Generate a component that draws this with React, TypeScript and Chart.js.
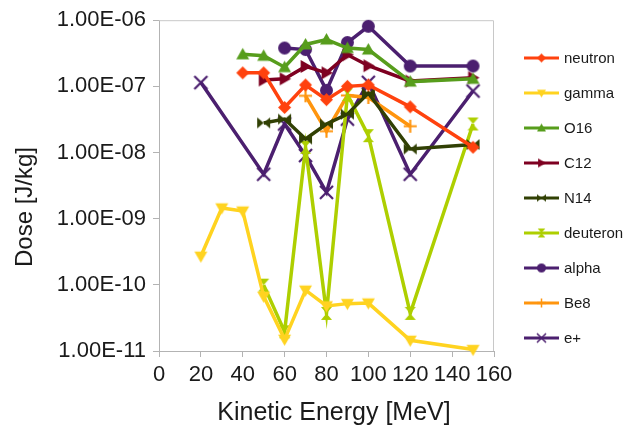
import React, { useEffect, useRef } from 'react';
import { Chart, registerables } from 'chart.js';

Chart.register(...registerables);

// ---- data ----
const energy = [20, 30, 40, 50, 60, 70, 80, 90, 100, 120, 150];
const neutron = [null, null, 1.6e-7, 1.6e-7, 4.8e-8, 1.05e-7, 6.3e-8, 1.0e-7, 1.05e-7, 4.9e-8, 1.2e-8];
const gamma = [2.7e-10, 1.45e-9, 1.3e-9, 6.7e-11, 1.5e-11, 8.3e-11, 4.8e-11, 5.2e-11, 5.3e-11, 1.45e-11, 1.05e-11];
const o16 = [null, null, 3.05e-7, 2.9e-7, 1.95e-7, 4.3e-7, 5.1e-7, 3.8e-7, 3.6e-7, 1.18e-7, 1.3e-7];
const c12 = [null, null, null, 1.25e-7, 1.3e-7, 2.0e-7, 1.6e-7, 3.0e-7, 2.05e-7, 1.2e-7, 1.35e-7];
const n14 = [null, null, null, 2.8e-8, 3.2e-8, 1.6e-8, 2.7e-8, 3.8e-8, 7.9e-8, 1.13e-8, 1.32e-8];
const deuteron = [null, null, null, 9.9e-11, 1.95e-11, 1.2e-8, 3.7e-11, 7.5e-8, 1.8e-8, 3.7e-11, 2.7e-8];
const alpha = [null, null, null, null, 3.8e-7, 3.6e-7, 8.7e-8, 4.6e-7, 8.1e-7, 2.03e-7, 2.03e-7];
const be8 = [null, null, null, null, null, 7.2e-8, 2.1e-8, 7.3e-8, 6.8e-8, 2.5e-8, null];
const positron = [1.14e-7, null, null, 4.7e-9, 2.7e-8, 9e-9, 2.5e-9, 3.2e-8, 1.15e-7, 4.7e-9, 8.5e-8];

const seriesNames = ['neutron', 'gamma', 'O16', 'C12', 'N14', 'deuteron', 'alpha', 'Be8', 'e+'];
const seriesValues = [neutron, gamma, o16, c12, n14, deuteron, alpha, be8, positron];
const xTicks = [0, 20, 40, 60, 80, 100, 120, 140, 160];
const yTicks = [1e-11, 1e-10, 1e-9, 1e-8, 1e-7, 1e-6];
const xTitle = 'Kinetic Energy [MeV]';
const yTitle = 'Dose [J/kg]';

// ---- styles ----
const colors = ['#ff420e', '#ffd320', '#579d1c', '#7e0021', '#314004', '#aecf00', '#4b1f6f', '#ff950e', '#4b1f6f'];
const markers = ['diamond', 'triDown', 'triUp', 'triRight', 'bowtie', 'hourglass', 'circle', 'plus', 'cross'];
const FONT = 'Liberation Sans';

function makeMarker(kind: string, color: string, size: number): HTMLCanvasElement {
  const pad = 2;
  const S = Math.ceil(size + pad * 2);
  const c = document.createElement('canvas');
  c.width = S;
  c.height = S;
  const ctx = c.getContext('2d')!;
  ctx.fillStyle = color;
  ctx.strokeStyle = color;
  ctx.lineWidth = Math.max(1.5, size / 6);
  const m = S / 2;
  const r = size / 2;
  ctx.beginPath();
  switch (kind) {
    case 'diamond':
      ctx.moveTo(m, m - r);
      ctx.lineTo(m + r, m);
      ctx.lineTo(m, m + r);
      ctx.lineTo(m - r, m);
      ctx.closePath();
      ctx.fill();
      break;
    case 'triDown':
      ctx.moveTo(m - r, m - r * 0.75);
      ctx.lineTo(m + r, m - r * 0.75);
      ctx.lineTo(m, m + r);
      ctx.closePath();
      ctx.fill();
      break;
    case 'triUp':
      ctx.moveTo(m - r, m + r * 0.75);
      ctx.lineTo(m + r, m + r * 0.75);
      ctx.lineTo(m, m - r);
      ctx.closePath();
      ctx.fill();
      break;
    case 'triRight':
      ctx.moveTo(m - r * 0.75, m - r);
      ctx.lineTo(m - r * 0.75, m + r);
      ctx.lineTo(m + r, m);
      ctx.closePath();
      ctx.fill();
      break;
    case 'bowtie':
      ctx.moveTo(m - r, m - r * 0.85);
      ctx.lineTo(m - r, m + r * 0.85);
      ctx.lineTo(m, m);
      ctx.closePath();
      ctx.moveTo(m + r, m - r * 0.85);
      ctx.lineTo(m + r, m + r * 0.85);
      ctx.lineTo(m, m);
      ctx.closePath();
      ctx.fill();
      break;
    case 'hourglass':
      ctx.moveTo(m - r * 0.85, m - r);
      ctx.lineTo(m + r * 0.85, m - r);
      ctx.lineTo(m, m);
      ctx.closePath();
      ctx.moveTo(m - r * 0.85, m + r);
      ctx.lineTo(m + r * 0.85, m + r);
      ctx.lineTo(m, m);
      ctx.closePath();
      ctx.fill();
      break;
    case 'circle':
      ctx.arc(m, m, r, 0, Math.PI * 2);
      ctx.fill();
      break;
    case 'plus':
      ctx.moveTo(m - r, m);
      ctx.lineTo(m + r, m);
      ctx.moveTo(m, m - r);
      ctx.lineTo(m, m + r);
      ctx.stroke();
      break;
    case 'cross':
      ctx.moveTo(m - r, m - r);
      ctx.lineTo(m + r, m + r);
      ctx.moveTo(m + r, m - r);
      ctx.lineTo(m - r, m + r);
      ctx.stroke();
      break;
  }
  return c;
}

function fmtExp(v: number): string {
  const e = Math.floor(Math.log10(v) + 1e-9);
  const mant = v / Math.pow(10, e);
  const sign = e < 0 ? '-' : '+';
  return `${mant.toFixed(2)}E${sign}${String(Math.abs(e)).padStart(2, '0')}`;
}

export default function App() {
  const ref = useRef<HTMLCanvasElement | null>(null);

  useEffect(() => {
    if (!ref.current) return;
    const plotMarkers = markers.map((k, i) => makeMarker(k, colors[i], 13));
    const legendMarkers = markers.map((k, i) => makeMarker(k, colors[i], 9));

    const frame = {
      id: 'frame',
      beforeDatasetsDraw(chart: any) {
        const { ctx, chartArea: a } = chart;
        ctx.save();
        ctx.strokeStyle = '#c8c8c8';
        ctx.lineWidth = 1;
        ctx.beginPath();
        ctx.moveTo(a.left, a.top + 0.5);
        ctx.lineTo(a.right - 0.5, a.top + 0.5);
        ctx.lineTo(a.right - 0.5, a.bottom);
        ctx.stroke();
        ctx.restore();
      },
    };

    const titles = {
      id: 'axisTitles',
      afterDraw(chart: any) {
        const { ctx } = chart;
        ctx.save();
        ctx.fillStyle = '#1a1a1a';
        ctx.textAlign = 'center';
        ctx.textBaseline = 'middle';
        ctx.font = `25px "${FONT}"`;
        ctx.fillText(xTitle, 334, 413);
        ctx.translate(25, 207);
        ctx.rotate(-Math.PI / 2);
        ctx.font = `24px "${FONT}"`;
        ctx.fillText(yTitle, 0, 0);
        ctx.restore();
      },
    };

    const legend = {
      id: 'customLegend',
      afterDraw(chart: any) {
        const { ctx } = chart;
        ctx.save();
        seriesNames.forEach((name, i) => {
          const y = 58 + 35 * i;
          ctx.strokeStyle = colors[i];
          ctx.lineWidth = 3;
          ctx.beginPath();
          ctx.moveTo(524, y);
          ctx.lineTo(559, y);
          ctx.stroke();
          const img = legendMarkers[i];
          ctx.drawImage(img, 541.5 - img.width / 2, y - img.height / 2);
          ctx.fillStyle = '#1a1a1a';
          ctx.font = `15px "${FONT}"`;
          ctx.textBaseline = 'middle';
          ctx.textAlign = 'left';
          ctx.fillText(name, 564, y + 1);
        });
        ctx.restore();
      },
    };

    const chart = new Chart(ref.current, {
      type: 'line',
      data: {
        datasets: seriesNames.map((name, i) => ({
          label: name,
          data: energy.map((x, j) => ({ x, y: seriesValues[i][j] })),
          borderColor: colors[i],
          backgroundColor: colors[i],
          borderWidth: 3.5,
          pointStyle: plotMarkers[i] as any,
          pointRadius: 6,
          spanGaps: true,
          tension: 0,
          clip: false as any,
        })),
      },
      plugins: [frame, titles, legend],
      options: {
        animation: false,
        responsive: false,
        maintainAspectRatio: false,
        layout: { padding: { top: 19, right: 129, left: 0, bottom: 0 } },
        plugins: { legend: { display: false }, tooltip: { enabled: false } },
        scales: {
          x: {
            type: 'linear',
            min: 0,
            max: 160,
            afterBuildTicks: (scale: any) => {
              scale.ticks = xTicks.map((v) => ({ value: v }));
            },
            afterFit: (scale: any) => {
              scale.height = 79;
            },
            ticks: {
              autoSkip: false,
              maxRotation: 0,
              padding: 5,
              color: '#1a1a1a',
              font: { family: FONT, size: 22 },
            },
            grid: { drawOnChartArea: false, drawTicks: true, tickLength: 6, color: '#b3b3b3' },
            border: { color: '#b3b3b3', width: 1 },
            title: { display: false, text: xTitle },
          },
          y: {
            type: 'logarithmic',
            min: yTicks[0],
            max: yTicks[yTicks.length - 1],
            afterBuildTicks: (scale: any) => {
              scale.ticks = yTicks.map((v) => ({ value: v }));
            },
            afterFit: (scale: any) => {
              scale.width = 159;
            },
            ticks: {
              autoSkip: false,
              padding: 7,
              color: '#1a1a1a',
              font: { family: FONT, size: 22 },
              callback: (v: any) => fmtExp(Number(v)),
            },
            grid: { drawOnChartArea: false, drawTicks: true, tickLength: 6, color: '#b3b3b3' },
            border: { color: '#b3b3b3', width: 1 },
            title: { display: false, text: yTitle },
          },
        },
      },
    });
    return () => chart.destroy();
  }, []);

  return (
    <div style={{ position: 'absolute', left: 0, top: 0, width: 623, height: 430, background: '#fff' }}>
      <canvas ref={ref} width={623} height={430} style={{ display: 'block' }} />
    </div>
  );
}
